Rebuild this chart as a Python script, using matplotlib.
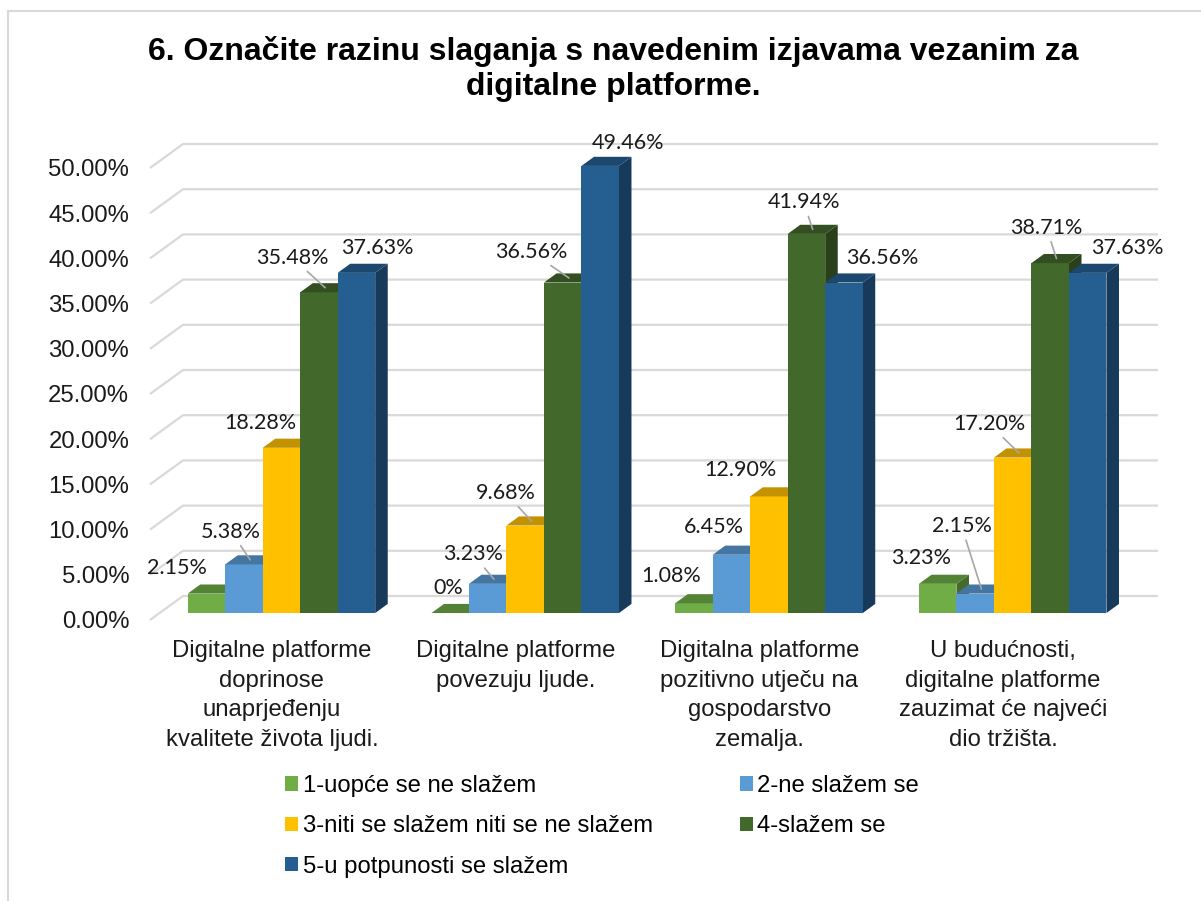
import numpy as np
import matplotlib
matplotlib.use('Agg')
import matplotlib.pyplot as plt
from matplotlib.patches import Polygon, Patch
from matplotlib.lines import Line2D
from matplotlib.colors import to_rgb

plt.rcParams['font.family'] = ['Liberation Sans', 'DejaVu Sans']

title = '6. Označite razinu slaganja s navedenim izjavama vezanim za\ndigitalne platforme.'

categories = ['Digitalne platforme\ndoprinose\nunaprjeđenju\nkvalitete života ljudi.',
              'Digitalne platforme\npovezuju ljude.',
              'Digitalna platforme\npozitivno utječu na\ngospodarstvo\nzemalja.',
              'U budućnosti,\ndigitalne platforme\nzauzimat će najveći\ndio tržišta.']

series_names = ['1-uopće se ne slažem', '2-ne slažem se',
                '3-niti se slažem niti se ne slažem', '4-slažem se',
                '5-u potpunosti se slažem']

s1 = [2.15, 0.00, 1.08, 3.23]
s2 = [5.38, 3.23, 6.45, 2.15]
s3 = [18.28, 9.68, 12.90, 17.20]
s4 = [35.48, 36.56, 41.94, 38.71]
s5 = [37.63, 49.46, 36.56, 37.63]
values = [s1, s2, s3, s4, s5]

yticks = np.arange(0, 50.1, 5)

colors = ['#70AD47', '#5B9BD5', '#FFC000', '#43682B', '#255E91']

# data label offsets (pixels) from the bar top, per series / category
label_offsets = [
    [(-36, 21), (-8, 20), (-29, 23), (-23, 21)],
    [(-19, 28), (-21, 25), (-24, 23), (-20, 63)],
    [(-27, 20), (-26, 28), (-35, 22), (-30, 29)],
    [(-33, 30), (-38, 26), (-9, 27), (-10, 31)],
    [(15, 20), (22, 18), (32, 20), (33, 20)],
]
leaders = [
    [False, False, False, False],
    [True, True, False, True],
    [False, True, False, True],
    [True, True, True, True],
    [False, False, False, False],
]


def shade(c, f):
    r, g, b = to_rgb(c)
    return (r * f, g * f, b * f)


W, H = 1201, 901
fig = plt.figure(figsize=(W / 100, H / 100), dpi=100)
ax = fig.add_axes([150 / W, 281 / H, 975 / W, 452 / H])
ax.set_xlim(0, 4)
ax.set_ylim(0, 50)
for s in ax.spines.values():
    s.set_visible(False)

# depth of the 3d box in data units
DX = 33 / (975 / 4)
DY = 24 / (452 / 50)
f0, f1 = 0.29, 0.67

grid_c = '#D9D9D9'
for v in yticks:
    ax.plot([0, DX, 4 + DX], [v, v + DY, v + DY], color=grid_c, lw=1.6,
            clip_on=False, zorder=1, solid_capstyle='butt')

n = len(values)
w = 1 / (n + 1.5)
d = (f1 - f0) * DX
dd = (f1 - f0) * DY
for j in range(len(categories)):
    for i in range(n):
        v = values[i][j]
        x0 = j + 0.75 * w + i * w + f0 * DX
        y0 = f0 * DY
        x1 = x0 + w
        c = colors[i]
        z = 3 + i
        ax.add_patch(Polygon([(x1, y0), (x1 + d, y0 + dd), (x1 + d, y0 + v + dd), (x1, y0 + v)],
                             closed=True, fc=shade(c, 0.62), ec='none', zorder=z, clip_on=False))
        ax.add_patch(Polygon([(x0, y0), (x1, y0), (x1, y0 + v), (x0, y0 + v)],
                             closed=True, fc=c, ec='none', zorder=z, clip_on=False))
        ax.add_patch(Polygon([(x0, y0 + v), (x1, y0 + v), (x1 + d, y0 + v + dd), (x0 + d, y0 + v + dd)],
                             closed=True, fc=shade(c, 0.76), ec='none', zorder=z, clip_on=False))

        txt = '0%' if v == 0 else f'{v:.2f}%'
        ap = None
        if leaders[i][j]:
            ap = dict(arrowstyle='-', color='#A6A6A6', lw=1.2, shrinkA=1, shrinkB=0)
        ax.annotate(txt, xy=(x0 + w / 2 + d / 2, y0 + v + dd / 2),
                    xytext=label_offsets[i][j], textcoords='offset pixels',
                    ha='center', va='center', fontsize=15.5, family=['Lato', 'DejaVu Sans'],
                    color='#1a1a1a', arrowprops=ap, annotation_clip=False, zorder=20)

ax.set_yticks(yticks)
ax.set_yticklabels([f'{v:.2f}%' for v in yticks])
ax.tick_params(axis='y', length=0, pad=15, labelsize=17.2, labelcolor='#1a1a1a')
ax.set_xticks(np.arange(len(categories)) + 0.5)
ax.set_xticklabels(categories)
ax.tick_params(axis='x', length=0, pad=14.5, labelsize=17.2, labelcolor='#1a1a1a')
for lab in ax.get_xticklabels():
    lab.set_linespacing(1.44)

fig.text(613 / W, 1 - 69 / H, title, ha='center', va='center', fontsize=23,
         fontweight='bold', color='#000000', linespacing=1.25)

handles = [Patch(fc=colors[i], ec='none', label=series_names[i]) for i in range(n)]
order = [0, 2, 4, 1, 3]
fig.legend([handles[k] for k in order], [series_names[k] for k in order],
           ncol=2, loc='upper left', bbox_to_anchor=(285 / W, 1 - 775 / H),
           frameon=False, fontsize=17.2, borderpad=0, borderaxespad=0,
           handlelength=0.54, handleheight=0.54, handletextpad=0.2,
           columnspacing=3.64, labelspacing=0.77)

# chart border (left and top)
fig.add_artist(Line2D([8 / W, 8 / W], [0, 1 - 11 / H], transform=fig.transFigure,
                      color=grid_c, lw=1.5))
fig.add_artist(Line2D([8 / W, 1], [1 - 11 / H, 1 - 11 / H], transform=fig.transFigure,
                      color=grid_c, lw=1.5))

fig.savefig('out.png', dpi=100, facecolor='white')
